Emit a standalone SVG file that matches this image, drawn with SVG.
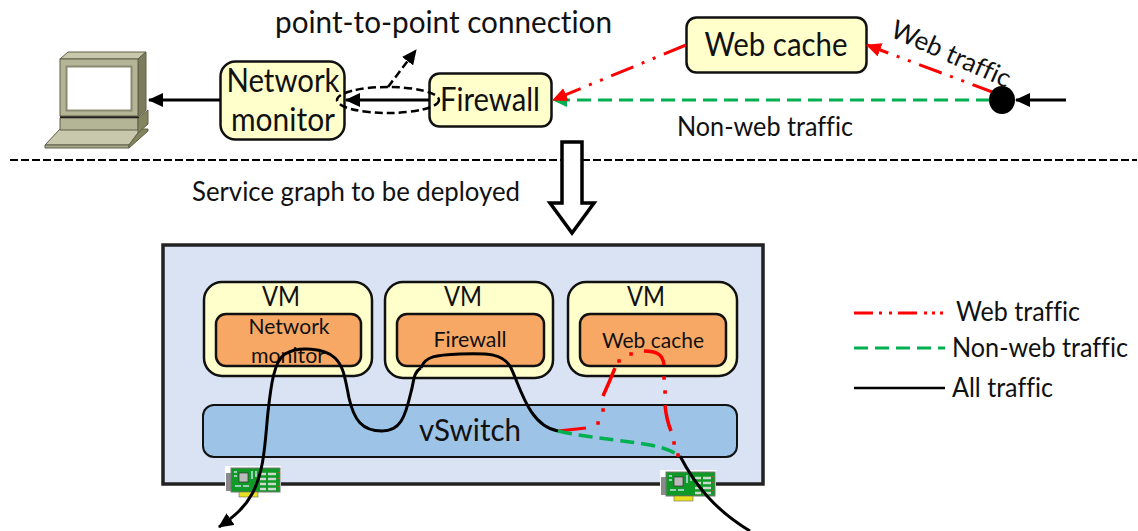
<svg xmlns="http://www.w3.org/2000/svg" width="1138" height="531" viewBox="0 0 1138 531">
<style>
text{font-family:"Lato","Noto Sans","Liberation Sans",sans-serif;fill:#111;font-variant-ligatures:none}
.m{text-anchor:middle}
.box{fill:#ffffcc;stroke:#111;stroke-width:2.5}
.app{fill:#f8a865;stroke:#111;stroke-width:2.5}
.blk{fill:none;stroke:#000;stroke-width:3}
.red{fill:none;stroke:#f00;stroke-width:3;stroke-dasharray:24 9 3 9 3 9}
.grn{fill:none;stroke:#00b050;stroke-width:3;stroke-dasharray:14 7}
.dsh{fill:none;stroke:#000;stroke-width:2.5;stroke-dasharray:8 4}
</style>
<defs>
<marker id="ab" markerWidth="16" markerHeight="14" refX="14" refY="7" orient="auto" markerUnits="userSpaceOnUse"><path d="M0 0L15 7L0 14Z" fill="#000"/></marker>
<marker id="ar" markerWidth="16" markerHeight="14" refX="14" refY="7" orient="auto" markerUnits="userSpaceOnUse"><path d="M0 0L15 7L0 14Z" fill="#f00"/></marker>
<marker id="ag" markerWidth="16" markerHeight="14" refX="14" refY="7" orient="auto" markerUnits="userSpaceOnUse"><path d="M0 0L15 7L0 14Z" fill="#00b050"/></marker>
<g id="nicshape">
<rect x="0" y="0" width="56" height="33" fill="#fff"/>
<rect x="1" y="7" width="5" height="18" fill="#8a8a8a"/>
<rect x="6" y="2" width="49" height="24" fill="#0f9a25" stroke="#777"/>
<rect x="14" y="7" width="9" height="9" fill="#bbb" stroke="#333" stroke-width=".7"/>
<path d="M10 20h6M18 20h6M27 5v8M31 5v6M9 6h3M9 10h3" stroke="#cde" stroke-width="1.500"/>
<path d="M35 8h6M43 8h8M35 13h6M43 13h8M35 18h6M43 18h8M35 23h6M43 23h8" stroke="#cfd8cf" stroke-width="2.500"/>
<path d="M53 6v1M53 12v1M53 20v1" stroke="#f33" stroke-width="1.500"/>
<rect x="14" y="26" width="19" height="5" fill="#e8e020" stroke="#555" stroke-width=".5"/>
</g>
</defs>

<g id="computer" stroke="#5e5e48" stroke-width="1">
<path d="M45 145L60 129H141L129 145Z" fill="#c8c8ac"/><path d="M45 145H129V148H45Z" fill="#a8a88c"/><path d="M129 148V145L141 129H148V131Z" fill="#84845f"/>
<path d="M60 118H138V130H60Z" fill="#b4b496"/><path d="M138 118L148 110V124L138 133Z" fill="#84845f"/>
<rect x="60" y="116" width="79" height="2" fill="#222" stroke="none"/>
<path d="M60 59L68 52H146L138 59Z" fill="#c8c8ac"/><path d="M138 59L146 52V110L138 117Z" fill="#7c7c5c"/><rect x="60" y="59" width="78" height="57" fill="#b4b496"/>
<rect x="66.500" y="66.500" width="65" height="44" fill="#fff" stroke="#8a8a70" stroke-width="2"/>
</g>

<g id="network-monitor"><rect class="box" x="220.500" y="61.500" width="124" height="78" rx="15"/><text class="m" x="283" y="92" font-size="32" textLength="113" lengthAdjust="spacingAndGlyphs">Network</text><text class="m" x="283" y="131" font-size="32" textLength="104" lengthAdjust="spacingAndGlyphs">monitor</text></g>
<g id="firewall"><rect class="box" x="429.500" y="73.500" width="122" height="53" rx="10"/><text class="m" x="490" y="111" font-size="32" textLength="100" lengthAdjust="spacingAndGlyphs">Firewall</text></g>
<g id="web-cache"><rect class="box" x="686.500" y="17.500" width="180" height="55" rx="10"/><text class="m" x="776" y="56" font-size="33" textLength="143" lengthAdjust="spacingAndGlyphs">Web cache</text></g>

<g id="connectors-top">
<path class="blk" d="M220 100H149" marker-end="url(#ab)"/>
<path class="blk" d="M429 100H346" marker-end="url(#ab)"/>
<ellipse class="dsh" cx="388" cy="100" rx="51" ry="13"/>
<path class="dsh" d="M388 87L416 50" marker-end="url(#ab)"/>
<path class="grn" d="M990 100H553" marker-end="url(#ag)"/>
<path class="red" d="M686 45L553 100" marker-end="url(#ar)"/>
<path d="M995 93L867 45" fill="none" stroke="#f00" stroke-width="3" stroke-dasharray="24 9 3 9 3 9" marker-end="url(#ar)"/>
<ellipse cx="1002" cy="100" rx="13" ry="14" fill="#000"/>
<path class="blk" d="M1066 100H1016" marker-end="url(#ab)"/>
</g>

<path id="divider" d="M10 160H1137" fill="none" stroke="#000" stroke-width="2" stroke-dasharray="8 3"/>
<path id="deploy-arrow" d="M562 142H582V203H594L572 233L550 203H562Z" fill="#fff" stroke="#000" stroke-width="3.500"/>

<text x="275" y="33" font-size="30" textLength="337" lengthAdjust="spacingAndGlyphs">point-to-point connection</text>
<text transform="translate(889 36) rotate(24)" font-size="26" textLength="128" lengthAdjust="spacingAndGlyphs">Web traffic</text>
<text x="677" y="136" font-size="26" textLength="176" lengthAdjust="spacingAndGlyphs">Non-web traffic</text>
<text x="192" y="201" font-size="26" textLength="328" lengthAdjust="spacingAndGlyphs">Service graph to be deployed</text>

<g id="server"><rect x="163" y="245" width="600" height="239" fill="#dae3f3" stroke="#222" stroke-width="3.500"/></g>
<g id="vm1"><rect class="box" x="204" y="282" width="168" height="94" rx="18"/><text class="m" x="281" y="306" font-size="26" textLength="38" lengthAdjust="spacingAndGlyphs">VM</text><rect class="app" x="216" y="314" width="145" height="52" rx="10"/><text class="m" x="289" y="334" font-size="22" textLength="81" lengthAdjust="spacingAndGlyphs">Network</text><text class="m" x="288" y="363" font-size="22" textLength="74" lengthAdjust="spacingAndGlyphs">monitor</text></g>
<g id="vm2"><rect class="box" x="385" y="282" width="168" height="96" rx="18"/><text class="m" x="463" y="306" font-size="26" textLength="38" lengthAdjust="spacingAndGlyphs">VM</text><rect class="app" x="397" y="314" width="147" height="52" rx="10"/><text class="m" x="470" y="347" font-size="22" textLength="73" lengthAdjust="spacingAndGlyphs">Firewall</text></g>
<g id="vm3"><rect class="box" x="568" y="282" width="169" height="94" rx="18"/><text class="m" x="646" y="306" font-size="26" textLength="38" lengthAdjust="spacingAndGlyphs">VM</text><rect class="app" x="580" y="314" width="146" height="52" rx="10"/><text class="m" x="653" y="348" font-size="22" textLength="102" lengthAdjust="spacingAndGlyphs">Web cache</text></g>
<g id="vswitch"><rect x="203" y="405" width="534" height="52" rx="11" fill="#9dc3e6" stroke="#111" stroke-width="2"/><text class="m" x="470" y="441" font-size="31" textLength="102" lengthAdjust="spacingAndGlyphs">vSwitch</text></g>
<g id="nic1"><use href="#nicshape" x="225" y="466"/></g>
<g id="nic2"><use href="#nicshape" x="660" y="470"/></g>

<g id="connectors-bottom">
<path class="blk" d="M421 368C413 372 414 382 411 392C405 418 400 431 382 431C362 431 354 420 349 398C345 378 344 367 335 358C325 348 298 346 285 354C274 361 271 385 268 412C265 440 265 470 252 494C245 507 235 516 219 527" marker-end="url(#ab)"/>
<path class="blk" d="M421 368C425 356 436 355 460 354C490 353 502 354 510 366C520 385 528 426 558 431"/>
<path class="blk" d="M680 456C695 485 715 510 750 531"/>
<path d="M558 431L586 428" fill="none" stroke="#f00" stroke-width="3"/>
<path d="M603 396C608 385 611 378 615 368M644 351C656 351 663 354 664 365M665 405C666 416 669 426 671 431" fill="none" stroke="#f00" stroke-width="3.500"/>
<path d="M598 423h.1M603 410h.1M619 361h.1M631 354h.1M664 378h.1M665 392h.1M674 443h.1M678 455h.1" fill="none" stroke="#f00" stroke-width="3.500" stroke-linecap="square"/>
<path d="M558 431C590 438 620 440 650 445C665 448 672 451 680 456" fill="none" stroke="#00b050" stroke-width="3.500" stroke-dasharray="14 7"/>
</g>

<g id="legend">
<path d="M854 313H873M879 313h3M889 313h3M898 313h19M924 313h3M932 313h3M940 313h3" fill="none" stroke="#f00" stroke-width="3"/><text x="956" y="321" font-size="26" textLength="124" lengthAdjust="spacingAndGlyphs">Web traffic</text>
<path class="grn" d="M854 348H945"/><text x="952" y="357" font-size="26" textLength="176" lengthAdjust="spacingAndGlyphs">Non-web traffic</text>
<path d="M854 388H945" stroke="#000" stroke-width="2.500" fill="none"/><text x="952" y="397" font-size="26" textLength="101" lengthAdjust="spacingAndGlyphs">All traffic</text>
</g>
</svg>
